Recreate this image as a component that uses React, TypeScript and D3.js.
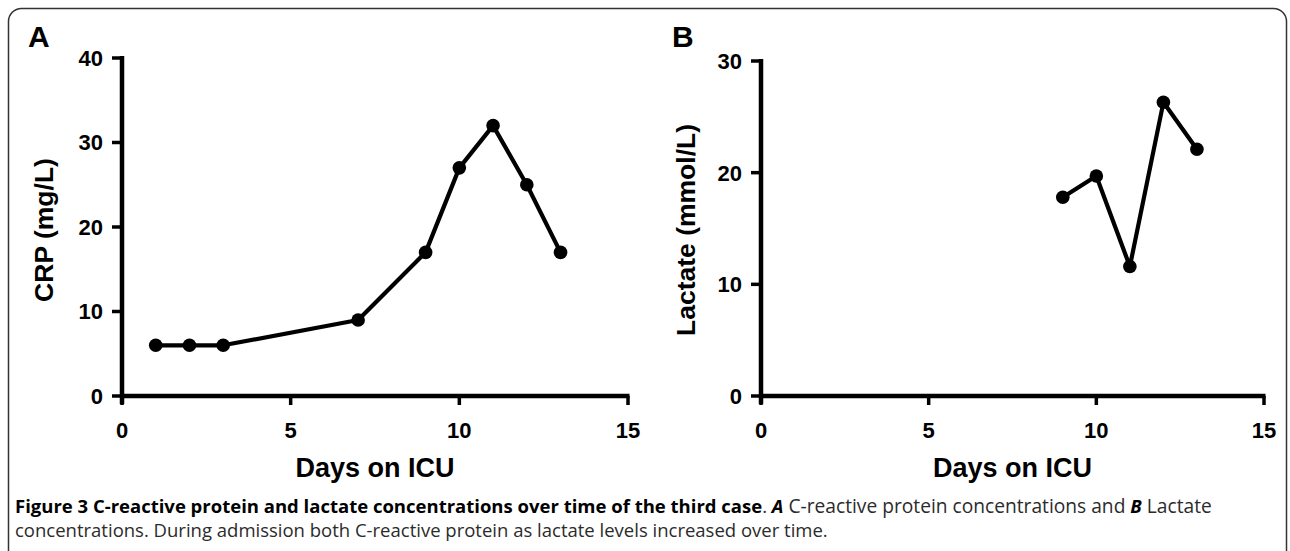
import React from "react";
import * as d3 from "d3";

const daysA = [1, 2, 3, 7, 9, 10, 11, 12, 13];
const crpValues = [6, 6, 6, 9, 17, 27, 32, 25, 17];
const daysB = [9, 10, 11, 12, 13];
const lactateValues = [17.8, 19.7, 11.6, 26.3, 22.1];
const xTickValues = [0, 5, 10, 15];
const crpTickValues = [0, 10, 20, 30, 40];
const lactateTickValues = [0, 10, 20, 30];

const W = 1290;
const H = 551;
const FONT = "'Liberation Sans', Arial, Helvetica, sans-serif";
const CAP_FONT = "'Open Sans', 'Noto Sans', sans-serif";

type PanelProps = {
  letter: string;
  letterX: number;
  xs: number[];
  ys: number[];
  yMax: number;
  yTicks: number[];
  yTitle: string;
  x0: number;
  x1: number;
  yTop: number;
  yBottom: number;
  titleX: number;
};

function Panel(p: PanelProps) {
  const x = d3.scaleLinear().domain([0, 15]).range([p.x0, p.x1]);
  const y = d3.scaleLinear().domain([0, p.yMax]).range([p.yBottom, p.yTop]);
  const pts = p.xs.map((d, i) => [d, p.ys[i]] as [number, number]);
  const line = d3
    .line<[number, number]>()
    .x((d) => x(d[0]))
    .y((d) => y(d[1]));
  const midX = (p.x0 + p.x1) / 2;
  return (
    <g>
      <text x={p.letterX} y={47} fontFamily={FONT} fontWeight="bold" fontSize={30} fill="#000">
        {p.letter}
      </text>
      {/* y axis */}
      <line x1={p.x0} x2={p.x0} y1={y(p.yMax) - 2} y2={y(0) + 8} stroke="#000" strokeWidth={4.5} />
      {p.yTicks.map((t) => (
        <g key={"y" + t}>
          <line x1={p.x0 - 10} x2={p.x0} y1={y(t)} y2={y(t)} stroke="#000" strokeWidth={3.5} />
          <text
            x={p.x0 - 19}
            y={y(t)}
            dy="0.36em"
            textAnchor="end"
            fontFamily={FONT}
            fontWeight="bold"
            fontSize={22}
            fill="#000"
          >
            {t}
          </text>
        </g>
      ))}
      {/* x axis */}
      <line x1={p.x0 - 2} x2={p.x1 + 1.5} y1={y(0)} y2={y(0)} stroke="#000" strokeWidth={4.5} />
      {xTickValues.map((t) => (
        <g key={"x" + t}>
          <line x1={x(t)} x2={x(t)} y1={y(0)} y2={y(0) + 9} stroke="#000" strokeWidth={3.5} />
          <text
            x={x(t)}
            y={y(0) + 34}
            dy="0.36em"
            textAnchor="middle"
            fontFamily={FONT}
            fontWeight="bold"
            fontSize={22}
            fill="#000"
          >
            {t}
          </text>
        </g>
      ))}
      <text
        x={midX}
        y={477}
        textAnchor="middle"
        fontFamily={FONT}
        fontWeight="bold"
        fontSize={27}
        fill="#000"
      >
        Days on ICU
      </text>
      <text
        transform={`translate(${p.titleX},230) rotate(-90)`}
        textAnchor="middle"
        dy="0.36em"
        fontFamily={FONT}
        fontWeight="bold"
        fontSize={26.5}
        fill="#000"
      >
        {p.yTitle}
      </text>
      <path d={line(pts) || ""} fill="none" stroke="#000" strokeWidth={4.2} strokeLinejoin="round" />
      {pts.map((d, i) => (
        <circle key={i} cx={x(d[0])} cy={y(d[1])} r={6.8} fill="#000" />
      ))}
    </g>
  );
}

export default function App() {
  return (
    <svg
      width={W}
      height={H}
      style={{ position: "absolute", left: 0, top: 0, background: "#fff" }}
    >
      <rect x={0} y={0} width={W} height={H} fill="#fff" />
      <rect x={8.5} y={8.5} width={1278} height={620} rx={13} fill="none" stroke="#333" strokeWidth={1.5} />
      <Panel
        letter="A"
        letterX={28}
        xs={daysA}
        ys={crpValues}
        yMax={40}
        yTicks={crpTickValues}
        yTitle="CRP (mg/L)"
        x0={122}
        x1={628}
        yTop={58}
        yBottom={396}
        titleX={43}
      />
      <Panel
        letter="B"
        letterX={672}
        xs={daysB}
        ys={lactateValues}
        yMax={30}
        yTicks={lactateTickValues}
        yTitle="Lactate (mmol/L)"
        x0={761}
        x1={1264}
        yTop={61}
        yBottom={396}
        titleX={685}
      />
      <text x={15} y={513} fontFamily={CAP_FONT} fontSize={18.5} fill="#2b2b2b">
        <tspan fontWeight="bold" fill="#000">
          Figure 3 C-reactive protein and lactate concentrations over time of the third case
        </tspan>
        <tspan>. </tspan>
        <tspan fontWeight="bold" fontStyle="italic" fill="#000">A</tspan>
        <tspan fontSize={19.2}> C-reactive protein concentrations and </tspan>
        <tspan fontWeight="bold" fontStyle="italic" fill="#000">B</tspan>
        <tspan fontSize={19.2}> Lactate</tspan>
      </text>
      <text x={15} y={537} fontFamily={CAP_FONT} fontSize={18.5} fill="#2b2b2b">
        concentrations. During admission both C-reactive protein as lactate levels increased over time.
      </text>
    </svg>
  );
}
